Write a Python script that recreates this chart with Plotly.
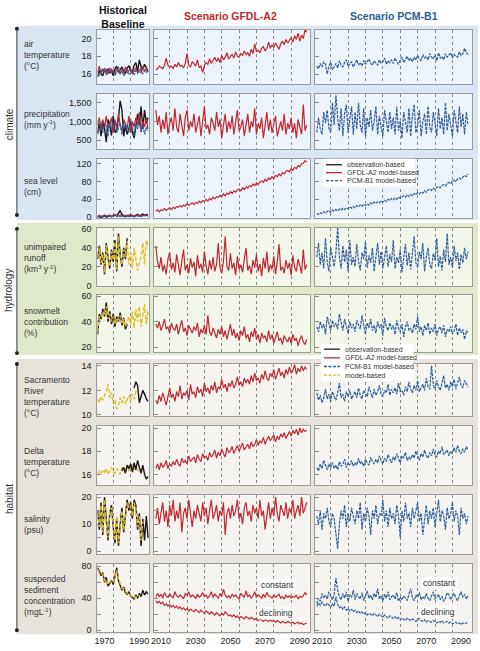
import plotly.graph_objects as go

# ---------------- data ----------------
years_hist = list(range(1966, 1996))      # 30 years
years_scen = list(range(2007, 2095))      # 88 years

# ---- historical: climate ----
hist_air_obs = [15.7, 16.4, 16.0, 15.8, 16.5, 16.3, 16.6, 16.1, 16.4, 15.8,
                16.6, 16.9, 16.2, 16.5, 16.8, 16.3, 16.1, 16.7, 16.9, 16.4,
                16.2, 17.0, 17.3, 16.3, 17.6, 16.8, 16.5, 17.1, 16.6, 16.3]
hist_air_gfdl = [16.2, 16.9, 16.1, 16.6, 16.3, 16.5, 16.0, 16.7, 16.2, 16.4,
                 16.1, 16.6, 16.3, 16.0, 16.5, 16.2, 16.8, 16.1, 16.4, 16.6,
                 16.0, 16.3, 16.7, 16.2, 16.5, 16.1, 16.9, 16.3, 16.6, 16.2]
hist_air_pcm = [16.0, 15.8, 16.5, 16.2, 16.7, 15.9, 16.4, 16.1, 16.6, 16.3,
                15.9, 16.2, 16.8, 16.1, 16.4, 15.8, 16.3, 16.6, 16.0, 16.2,
                16.5, 15.9, 16.4, 16.1, 16.3, 16.7, 16.0, 16.4, 16.2, 16.5]
hist_pr_obs = [700, 950, 600, 1000, 800, 450, 1050, 900, 620, 1150,
               700, 750, 1100, 1550, 1300, 600, 900, 650, 800, 1000,
               700, 550, 850, 1200, 900, 1400, 800, 1300, 950, 1100]
hist_pr_gfdl = [900, 1100, 750, 1050, 850, 1150, 800, 950, 1100, 700,
                1000, 850, 1200, 900, 750, 1050, 950, 800, 1150, 700,
                1000, 850, 1100, 900, 1250, 750, 1000, 850, 1100, 800]
hist_pr_pcm = [650, 800, 1000, 700, 950, 850, 600, 1000, 750, 900,
               1050, 700, 850, 950, 650, 1000, 800, 900, 700, 1050,
               850, 600, 950, 800, 1000, 700, 900, 650, 850, 750]
hist_sl_obs = [0, 2, -1, 1, 3, 0, 2, 4, 1, 3,
               5, 2, 8, 15, 6, 3, 1, 4, 2, 5,
               3, 1, 4, 6, 3, 5, 7, 4, 6, 5]
hist_sl_gfdl = [2, 4, 1, 3, 5, 2, 4, 3, 1, 4,
                6, 3, 2, 5, 3, 1, 4, 2, 5, 3,
                4, 2, 3, 5, 2, 4, 3, 6, 4, 3]
hist_sl_pcm = [1, 0, 3, 1, 4, 2, 0, 3, 2, 1,
               4, 2, 3, 1, 2, 4, 1, 3, 0, 2,
               3, 1, 4, 2, 3, 1, 2, 4, 3, 2]

# ---- historical: hydrology ----
hist_ro_obs = [28, 42, 22, 35, 12, 45, 30, 18, 38, 25,
               48, 15, 55, 32, 20, 40, 28, 50]                       # 1966-1983
hist_ro_mod = [30, 40, 24, 33, 14, 43, 28, 20, 36, 27,
               46, 17, 52, 30, 22, 38, 30, 47, 22, 35,
               18, 40, 28, 16, 24, 30, 45, 22, 48, 40]
hist_sm_obs = [30, 46, 42, 50, 44, 55, 40, 48, 38, 46,
               36, 44, 40, 47, 37, 43, 34, 38]                       # 1966-1983
hist_sm_mod = [32, 44, 43, 48, 45, 52, 42, 46, 40, 44,
               38, 43, 41, 45, 38, 42, 36, 40, 44, 38,
               48, 35, 50, 40, 52, 36, 46, 54, 38, 48]

# ---- historical: habitat ----
hist_sac_mod = [11.3, 11.0, 11.5, 11.2, 11.6, 11.9, 12.5, 11.4, 11.8, 10.9,
                11.2, 10.5, 10.8, 11.4, 11.0, 11.5, 10.9, 11.3, 11.6, 11.1,
                11.7, 11.3, 11.9, 12.1]                               # 1966-1989
hist_sac_obs = [12.2, 12.7, 12.4, 11.0, 11.5, 12.0, 11.7, 11.3, 11.1]  # 1987-1995
hist_dt_mod = [16.0, 16.3, 16.1, 16.4, 16.2, 16.5, 16.0, 16.3, 16.6, 16.2,
               16.1, 16.5, 16.3, 16.0, 16.6, 16.4, 16.2, 16.7, 16.3, 16.5,
               16.9, 16.4, 16.8, 16.3, 16.6, 16.2, 16.5]               # 1966-1992
hist_dt_obs = [16.3, 16.6, 16.1, 16.8, 16.5, 16.9, 16.2, 17.0, 16.4, 17.2,
               16.6, 16.1, 16.8, 16.0, 15.6, 15.8]                     # 1980-1995
hist_sal_obs = [15, 8, 18, 6, 20, 11, 4, 14, 17, 9,
                3, 12, 2, 10, 16, 7, 13, 19, 15, 18,
                12, 19, 17, 8, 14, 2, 12, 4, 13, 5]
hist_sal_mod = [14, 9, 17, 7, 19, 10, 5, 15, 16, 10,
                4, 13, 3, 9, 15, 8, 12, 18, 16, 17,
                13, 18, 16, 9, 13, 4, 11]                              # 1966-1992
hist_sed_obs = [78, 74, 68, 72, 60, 66, 55, 58, 62, 57,
                70, 78, 62, 55, 50, 54, 47, 45, 48, 43,
                41, 39, 44, 40, 46, 42, 50, 44, 48, 45]
hist_sed_mod = [76, 72, 70, 70, 62, 64, 57, 60, 60, 59,
                68, 75, 64, 57, 52, 52, 49, 46, 46, 44,
                42, 40, 42, 41, 44]                                    # 1966-1990

# ---- scenarios (2007-2094) ----
gfdl_air = [16.5, 16.6, 16.9, 16.7, 16.6, 17.0, 17.8, 17.0, 16.8, 16.9, 16.6,
            17.1, 16.8, 17.3, 16.9, 17.0, 16.7, 17.2, 18.3, 17.0, 16.8, 17.4,
            17.1, 16.9, 17.6, 16.7, 16.9, 16.2, 17.0, 17.3, 17.1, 17.7, 17.2,
            17.5, 17.9, 17.4, 17.8, 17.3, 18.1, 17.6, 17.9, 18.4, 17.7, 18.0,
            18.2, 17.8, 18.5, 18.0, 17.9, 18.3, 18.1, 18.6, 18.2, 18.4, 18.0,
            18.8, 18.3, 19.4, 18.5, 18.7, 18.4, 18.9, 19.1, 18.6, 18.9, 19.6,
            18.9, 19.3, 19.0, 19.5, 19.2, 18.8, 19.4, 19.7, 19.3, 19.9, 19.5,
            19.8, 20.1, 19.6, 20.3, 19.9, 20.6, 19.7, 20.4, 20.0, 21.0, 20.7]
pcm_air = [16.9, 16.6, 17.2, 16.8, 17.4, 17.1, 16.0, 16.9, 17.3, 16.5, 16.8,
           17.2, 16.7, 17.5, 17.0, 16.8, 17.3, 17.6, 16.9, 17.1, 17.4, 16.8,
           17.2, 17.6, 17.0, 17.3, 16.9, 17.5, 17.1, 17.4, 17.7, 17.2, 17.0,
           17.5, 17.3, 17.0, 17.6, 17.2, 17.4, 17.8, 17.1, 17.5, 17.3, 17.6,
           17.2, 17.8, 17.4, 17.1, 17.6, 17.9, 17.3, 17.7, 18.0, 17.5, 17.8,
           17.4, 17.9, 17.6, 18.1, 17.7, 17.5, 18.2, 17.8, 18.0, 17.6, 18.3,
           17.9, 17.7, 18.2, 17.5, 18.4, 17.8, 18.0, 17.6, 18.3, 17.9, 18.1,
           18.4, 17.8, 18.2, 18.0, 17.9, 18.5, 18.1, 18.3, 18.9, 18.4, 18.2]
gfdl_pr = [1300, 900, 1150, 700, 1050, 800, 1250, 650, 950, 1100, 750,
           1350, 850, 700, 1200, 900, 600, 1100, 1300, 750, 1000, 850,
           1200, 700, 950, 1150, 600, 1000, 1400, 800, 900, 650, 1100,
           950, 750, 1250, 850, 1050, 550, 900, 1200, 700, 1000, 800,
           1150, 650, 950, 1300, 750, 850, 1050, 600, 900, 1200, 700,
           1000, 850, 1350, 650, 950, 800, 1100, 550, 900, 1250, 750,
           1050, 700, 900, 1150, 600, 850, 1000, 750, 1200, 650, 950,
           800, 1100, 700, 950, 550, 1050, 850, 650, 1450, 750, 900]
pcm_pr = [700, 1100, 800, 650, 1250, 950, 1300, 800, 700, 1500, 900,
          1700, 1100, 750, 1350, 600, 1200, 1450, 700, 1000, 1400, 650,
          1250, 800, 1500, 900, 700, 1350, 600, 1100, 850, 1300, 750,
          1000, 1400, 650, 1150, 850, 600, 1300, 950, 700, 1250, 800,
          1100, 650, 1400, 750, 1000, 550, 1250, 900, 700, 1350, 600,
          1150, 1450, 700, 900, 1300, 600, 1000, 1200, 650, 1400, 850,
          700, 1250, 950, 600, 1350, 800, 1100, 650, 1500, 750, 1200,
          900, 600, 1300, 1050, 700, 1400, 850, 1200, 650, 1250, 900]
gfdl_sl = [13, 17, 12, 16, 15, 19, 15, 18, 21, 17, 22,
           19, 24, 22, 26, 23, 27, 25, 30, 26, 29, 32,
           28, 33, 31, 36, 32, 37, 35, 40, 36, 42, 39,
           45, 41, 46, 44, 49, 46, 52, 48, 54, 51, 57,
           53, 59, 56, 61, 63, 59, 66, 62, 68, 65, 71,
           68, 74, 71, 77, 73, 79, 81, 78, 85, 81, 88,
           85, 91, 87, 94, 91, 97, 93, 100, 97, 103, 105,
           102, 109, 105, 112, 109, 116, 113, 120, 121, 127, 124]
pcm_sl = [8, 6, 10, 8, 12, 9, 13, 15, 11, 16, 13,
          17, 14, 18, 16, 20, 17, 21, 19, 23, 20, 24,
          21, 26, 23, 27, 24, 29, 26, 30, 27, 32, 29,
          34, 31, 35, 32, 37, 34, 38, 35, 40, 37, 42,
          39, 43, 40, 45, 42, 46, 48, 45, 50, 47, 51,
          48, 53, 50, 55, 52, 57, 54, 59, 56, 61, 63,
          60, 65, 62, 67, 69, 66, 71, 73, 70, 76, 78,
          75, 81, 83, 80, 86, 88, 85, 91, 94, 91, 97]
gfdl_ro = [42, 25, 18, 30, 15, 22, 12, 28, 35, 17, 24,
           14, 33, 20, 11, 26, 38, 16, 22, 13, 29, 19,
           25, 10, 32, 18, 23, 14, 36, 21, 12, 27, 17,
           30, 15, 22, 45, 19, 13, 26, 52, 20, 16, 34,
           18, 24, 11, 31, 17, 22, 14, 28, 40, 16, 21,
           12, 27, 19, 33, 15, 23, 10, 29, 18, 36, 14,
           22, 17, 31, 12, 25, 44, 16, 20, 13, 27, 18,
           24, 11, 32, 19, 15, 28, 21, 13, 38, 17, 22]
pcm_ro = [30, 45, 22, 35, 18, 50, 25, 15, 40, 28, 20,
          35, 62, 30, 18, 42, 25, 38, 15, 48, 22, 30,
          20, 44, 26, 16, 35, 28, 46, 19, 32, 24, 40,
          15, 30, 45, 22, 36, 18, 28, 42, 20, 33, 25,
          48, 18, 30, 24, 38, 14, 27, 44, 21, 35, 17,
          32, 52, 24, 19, 36, 28, 45, 15, 30, 40, 22,
          18, 34, 27, 50, 20, 31, 16, 38, 25, 55, 22,
          30, 19, 42, 26, 35, 17, 33, 24, 40, 28, 36]
gfdl_sm = [38, 35, 40, 33, 37, 42, 34, 36, 31, 39, 35,
           33, 38, 30, 36, 41, 32, 35, 29, 37, 34, 31,
           36, 33, 39, 28, 34, 31, 37, 30, 45, 32, 29,
           35, 31, 27, 34, 30, 36, 28, 33, 26, 32, 38,
           29, 34, 27, 31, 25, 33, 29, 36, 27, 30, 24,
           32, 28, 35, 26, 30, 23, 31, 27, 29, 24, 33,
           26, 30, 23, 28, 32, 25, 27, 22, 29, 26, 24,
           28, 23, 30, 25, 27, 21, 26, 29, 24, 22, 26]
pcm_sm = [36, 32, 40, 35, 38, 30, 44, 37, 33, 41, 36,
          39, 34, 46, 38, 33, 42, 36, 31, 40, 35, 38,
          32, 41, 37, 34, 45, 36, 30, 39, 35, 42, 33,
          37, 31, 40, 35, 38, 29, 43, 36, 33, 39, 34,
          37, 30, 41, 35, 32, 38, 28, 36, 40, 33, 35,
          31, 38, 34, 44, 32, 36, 29, 37, 33, 39, 30,
          35, 32, 38, 29, 34, 36, 31, 37, 28, 34, 32,
          36, 30, 33, 38, 29, 35, 31, 34, 26, 33, 31]
gfdl_sac = [11.2, 10.9, 11.6, 11.1, 11.8, 11.3, 10.8, 11.5, 12.2, 11.4, 11.7,
            11.1, 11.9, 11.5, 12.4, 11.3, 11.8, 11.6, 12.0, 11.2, 12.5, 11.7,
            11.9, 11.4, 12.3, 11.8, 12.1, 11.5, 12.6, 11.9, 12.2, 11.7, 12.4,
            12.0, 12.7, 11.8, 12.3, 12.1, 12.9, 12.2, 12.5, 11.9, 12.6, 12.3,
            12.8, 12.2, 12.5, 13.1, 12.4, 12.7, 12.3, 13.0, 12.6, 12.9, 12.5,
            13.2, 12.7, 13.4, 12.8, 13.0, 12.6, 13.3, 12.9, 13.6, 13.0, 12.8,
            13.4, 13.1, 13.7, 12.9, 13.3, 13.8, 13.2, 13.5, 13.0, 13.7, 13.3,
            13.9, 13.4, 13.6, 14.1, 13.3, 13.8, 13.5, 14.0, 13.6, 13.9, 13.7]
pcm_sac = [11.8, 11.2, 11.6, 11.0, 11.4, 12.1, 11.3, 11.7, 11.1, 11.9, 11.5,
           11.2, 11.8, 12.6, 11.4, 11.7, 11.1, 11.9, 11.5, 12.0, 11.3, 11.6,
           11.9, 11.4, 12.2, 11.6, 11.3, 12.0, 11.7, 11.5, 12.3, 11.8, 11.4,
           12.1, 11.6, 11.9, 12.4, 11.7, 11.5, 12.0, 11.8, 12.5, 11.6, 12.1,
           11.8, 12.2, 11.7, 12.6, 11.9, 12.0, 11.6, 12.3, 11.9, 12.7, 12.1,
           11.8, 12.4, 12.0, 12.8, 11.9, 12.2, 12.5, 12.0, 13.0, 12.3, 12.1,
           14.0, 12.4, 12.1, 12.8, 12.3, 12.0, 12.6, 13.2, 12.2, 12.5, 12.0,
           12.7, 12.3, 12.9, 12.1, 12.6, 13.1, 12.4, 12.2, 12.8, 12.5, 12.3]
gfdl_dt = [16.5, 16.9, 16.4, 17.0, 16.6, 16.8, 17.2, 16.5, 16.9, 16.7, 17.1,
           16.8, 17.3, 16.9, 16.7, 17.4, 17.0, 17.2, 16.9, 17.6, 17.1, 17.3,
           17.5, 17.0, 17.7, 17.3, 17.1, 17.8, 17.4, 17.6, 17.2, 17.9, 17.5,
           17.7, 18.1, 17.4, 17.9, 17.6, 18.2, 17.8, 17.5, 18.3, 17.9, 18.0,
           18.4, 17.8, 18.2, 18.5, 18.0, 18.3, 18.7, 18.1, 18.4, 18.6, 18.2,
           18.8, 18.4, 18.6, 19.0, 18.5, 18.9, 18.7, 19.2, 18.6, 19.0, 19.3,
           18.9, 19.1, 19.4, 18.8, 19.3, 19.0, 19.5, 19.2, 19.6, 19.1, 19.4,
           19.7, 19.3, 19.8, 19.5, 19.9, 19.4, 20.0, 19.6, 19.9, 19.7, 19.8]
pcm_dt = [16.6, 16.3, 16.9, 16.5, 17.2, 16.7, 16.4, 16.9, 16.6, 17.0, 16.5,
          16.8, 16.4, 17.1, 16.7, 16.9, 17.3, 16.6, 17.0, 16.8, 17.2, 16.7,
          17.0, 16.8, 17.4, 16.9, 17.1, 16.7, 17.3, 17.0, 16.8, 17.5, 17.1,
          16.9, 17.3, 17.0, 17.6, 17.2, 16.9, 17.4, 17.1, 17.7, 17.3, 17.0,
          17.5, 17.2, 17.8, 17.3, 17.0, 17.6, 17.4, 17.9, 17.2, 17.5, 17.3,
          17.7, 17.4, 18.0, 17.5, 17.2, 17.8, 17.5, 18.1, 17.6, 17.4, 17.9,
          17.6, 18.2, 17.7, 17.5, 18.0, 17.8, 18.4, 17.7, 17.9, 18.1, 17.6,
          18.0, 17.8, 18.3, 17.9, 18.5, 18.0, 17.8, 18.2, 17.9, 18.4, 18.1]
gfdl_sal = [12, 16, 10, 14, 18, 11, 15, 9, 17, 13, 19,
            11, 15, 12, 18, 7, 14, 16, 12, 19, 13, 9,
            15, 12, 17, 14, 11, 18, 13, 16, 10, 15, 19,
            12, 14, 17, 11, 15, 13, 18, 6, 14, 16, 12,
            17, 13, 15, 19, 12, 14, 10, 16, 18, 13, 15,
            11, 17, 14, 16, 12, 19, 13, 15, 8, 14, 18,
            12, 16, 13, 20, 14, 11, 17, 15, 13, 18, 12,
            16, 14, 19, 12, 15, 17, 13, 20, 14, 16, 18]
pcm_sal = [13, 10, 15, 8, 14, 12, 16, 11, 9, 14, 12,
           5, 1, 10, 15, 12, 17, 9, 14, 11, 16, 13,
           10, 15, 12, 18, 8, 14, 11, 16, 13, 6, 15,
           12, 17, 10, 14, 13, 19, 11, 15, 9, 16, 12,
           14, 10, 17, 13, 5, 15, 11, 18, 12, 14, 9,
           16, 12, 15, 18, 11, 14, 6, 13, 17, 10, 15,
           12, 16, 9, 14, 19, 11, 15, 13, 8, 16, 12,
           14, 18, 11, 15, 13, 6, 16, 12, 14, 10, 13]
gfdl_sed_const = [41, 46, 42, 45, 40, 47, 43, 41, 45, 42, 40,
                  48, 43, 41, 44, 42, 39, 46, 43, 48, 41, 44,
                  42, 40, 45, 41, 43, 47, 42, 44, 40, 43, 48,
                  41, 45, 43, 40, 46, 42, 51, 44, 41, 43, 40,
                  45, 42, 44, 41, 39, 46, 43, 41, 49, 42, 44,
                  40, 43, 48, 41, 44, 42, 40, 45, 41, 47, 43,
                  42, 40, 44, 41, 43, 45, 40, 42, 39, 44, 41,
                  43, 40, 42, 41, 44, 39, 42, 41, 43, 47, 44]
gfdl_sed_decl = [37, 34, 36, 33, 35, 31, 33, 30, 32, 29, 31,
                 28, 30, 27, 29, 26, 28, 25, 27, 24, 26, 25,
                 23, 26, 24, 22, 25, 23, 21, 24, 22, 20, 23,
                 21, 19, 22, 20, 18, 21, 19, 23, 20, 18, 19,
                 17, 19, 16, 18, 15, 17, 16, 14, 17, 15, 14,
                 16, 14, 13, 15, 12, 14, 13, 11, 13, 12, 11,
                 13, 11, 12, 10, 12, 11, 9, 11, 10, 9, 11,
                 10, 9, 10, 8, 9, 10, 8, 9, 7, 8, 9]
pcm_sed_const = [33, 40, 36, 46, 40, 44, 39, 48, 43, 38, 45,
                 65, 50, 42, 38, 46, 40, 48, 36, 44, 41, 50,
                 38, 46, 42, 39, 47, 37, 43, 49, 40, 44, 38,
                 46, 41, 52, 39, 43, 37, 45, 40, 48, 38, 42,
                 44, 39, 47, 36, 41, 38, 43, 40, 37, 45, 52,
                 40, 37, 44, 41, 47, 38, 42, 39, 46, 40, 37,
                 43, 48, 39, 41, 45, 38, 42, 36, 40, 47, 44,
                 38, 42, 46, 40, 37, 43, 48, 41, 45, 39, 43]
pcm_sed_decl = [30, 34, 31, 35, 32, 30, 34, 31, 29, 33, 30,
                42, 32, 28, 30, 26, 29, 25, 27, 24, 26, 23,
                25, 22, 24, 21, 23, 20, 22, 19, 21, 20, 18,
                21, 19, 17, 20, 18, 16, 19, 17, 15, 18, 16,
                15, 17, 14, 16, 13, 15, 14, 12, 15, 13, 12,
                14, 12, 11, 13, 15, 12, 11, 13, 10, 12, 11,
                10, 12, 11, 9, 11, 10, 12, 9, 10, 11, 9,
                10, 8, 9, 10, 8, 9, 7, 9, 8, 9, 10]

row_labels = ["air<br>temperature<br>(°C)",
              "precipitation<br>(mm y<sup>-1</sup>)",
              "sea level<br>(cm)",
              "unimpaired<br>runoff<br>(km<sup>3</sup> y<sup>-1</sup>)",
              "snowmelt<br>contribution<br>(%)",
              "Sacramento<br>River<br>temperature<br>(°C)",
              "Delta<br>temperature<br>(°C)",
              "salinity<br>(psu)",
              "suspended<br>sediment<br>concentration<br>(mgL<sup>-1</sup>)"]
y_tickvals = [[16, 18, 20], [500, 1000, 1500], [0, 40, 80, 120], [0, 20, 40, 60],
              [20, 40, 60], [10, 12, 14], [16, 18, 20], [0, 10, 20], [0, 40, 80]]
y_ticktext = [["16", "18", "20"], ["500", "1,000", "1,500"], ["0", "40", "80", "120"],
              ["0", "20", "40", "60"], ["20", "40", "60"], ["10", "12", "14"],
              ["16", "18", "20"], ["0", "10", "20"], ["0", "40", "80"]]
y_minor_ticks = [[], [], [], [], [], [], [], [5, 15], [20, 60]]
hist_ticks = [1970, 1990]
scen_ticks = [2010, 2030, 2050, 2070, 2090]
hist_grid = [1975, 1985]
scen_grid = [2015, 2025, 2035, 2045, 2055, 2065, 2075, 2085]

for s in [gfdl_air, pcm_air, gfdl_pr, pcm_pr, gfdl_sl, pcm_sl, gfdl_ro, pcm_ro, gfdl_sm,
          pcm_sm, gfdl_sac, pcm_sac, gfdl_dt, pcm_dt, gfdl_sal, pcm_sal, gfdl_sed_const,
          gfdl_sed_decl, pcm_sed_const, pcm_sed_decl]:
    assert len(s) == len(years_scen), len(s)

# ---------------- styling / layout ----------------
W, H = 480, 651
FONT = "Liberation Sans, Arial, sans-serif"
C_OBS, C_GFDL, C_PCM, C_MOD = "#1a1a1a", "#c1272d", "#2b5c9e", "#e3b91c"
OBS = dict(color=C_OBS, width=1.4)
GF = dict(color=C_GFDL, width=1.2)
PC = dict(color=C_PCM, width=1.2, dash="3px,1px")
MOD = dict(color=C_MOD, width=1.4, dash="4px,2px")


def fx(p):
    return p / W


def fy(p):
    return 1 - p / H


COLS = [(95, 147), (152, 309), (314, 472)]
XRANGES = [[1965.9, 1995.6], [2006, 2095.9], [2006, 2096.3]]
ROWS = [(26, 81), (91, 147), (157, 217), (227, 286), (295, 353),
        (365, 418), (428, 488), (498, 558), (568, 637)]
YRANGES = [[14.9, 21.0], [260, 1740], [-2, 131], [-0.5, 61], [16, 61],
           [9.9, 14.15], [15.06, 20.17], [-1.1, 20.7], [-2.5, 82.5]]
SECTION_OF_ROW = [0, 0, 0, 1, 1, 2, 2, 2, 2]
SEC_BG = ["#d9e5f1", "#e0e8ca", "#e7e3dc"]
PANEL_BG = ["#edf3fa", "#f3f6ea", "#f6f4f0"]

yh = years_hist
ys = years_scen
traces = [
    [[(yh, hist_air_obs, OBS), (yh, hist_air_gfdl, GF), (yh, hist_air_pcm, PC)],
     [(ys, gfdl_air, GF)], [(ys, pcm_air, PC)]],
    [[(yh, hist_pr_obs, OBS), (yh, hist_pr_gfdl, GF), (yh, hist_pr_pcm, PC)],
     [(ys, gfdl_pr, GF)], [(ys, pcm_pr, PC)]],
    [[(yh, hist_sl_obs, OBS), (yh, hist_sl_gfdl, GF), (yh, hist_sl_pcm, PC)],
     [(ys, gfdl_sl, GF)], [(ys, pcm_sl, PC)]],
    [[(yh[:len(hist_ro_obs)], hist_ro_obs, OBS), (yh, hist_ro_mod, MOD)],
     [(ys, gfdl_ro, GF)], [(ys, pcm_ro, PC)]],
    [[(yh[:len(hist_sm_obs)], hist_sm_obs, OBS), (yh, hist_sm_mod, MOD)],
     [(ys, gfdl_sm, GF)], [(ys, pcm_sm, PC)]],
    [[(yh[:len(hist_sac_mod)], hist_sac_mod, MOD), (yh[-len(hist_sac_obs):], hist_sac_obs, OBS)],
     [(ys, gfdl_sac, GF)], [(ys, pcm_sac, PC)]],
    [[(yh[:len(hist_dt_mod)], hist_dt_mod, MOD), (yh[-len(hist_dt_obs):], hist_dt_obs, OBS)],
     [(ys, gfdl_dt, GF)], [(ys, pcm_dt, PC)]],
    [[(yh, hist_sal_obs, OBS), (yh[:len(hist_sal_mod)], hist_sal_mod, MOD)],
     [(ys, gfdl_sal, GF)], [(ys, pcm_sal, PC)]],
    [[(yh, hist_sed_obs, OBS), (yh[:len(hist_sed_mod)], hist_sed_mod, MOD)],
     [(ys, gfdl_sed_const, GF), (ys, gfdl_sed_decl, GF)],
     [(ys, pcm_sed_const, PC), (ys, pcm_sed_decl, PC)]],
]

fig = go.Figure()
layout = {}
shapes = []

sec_spans = [(22, 219), (222, 356), (360, 639)]
for i, (t, b) in enumerate(sec_spans):
    shapes.append(dict(type="rect", xref="paper", yref="paper", layer="below",
                       x0=fx(14), x1=fx(478), y0=fy(b), y1=fy(t),
                       fillcolor=SEC_BG[i], line=dict(width=0)))

TICKFONT = dict(family=FONT, size=9, color="#222")
k = 0
for r in range(9):
    top, bot = ROWS[r]
    for c in range(3):
        k += 1
        xid = "x" if k == 1 else f"x{k}"
        yid = "y" if k == 1 else f"y{k}"
        xname = "xaxis" if k == 1 else f"xaxis{k}"
        yname = "yaxis" if k == 1 else f"yaxis{k}"
        x0, x1 = COLS[c]
        shapes.append(dict(type="rect", xref="paper", yref="paper", layer="below",
                           x0=fx(x0), x1=fx(x1), y0=fy(bot), y1=fy(top),
                           fillcolor=PANEL_BG[SECTION_OF_ROW[r]], line=dict(width=0)))
        tv = hist_ticks if c == 0 else scen_ticks
        gv = hist_grid if c == 0 else scen_grid
        layout[xname] = dict(domain=[fx(x0), fx(x1)], anchor=yid, range=XRANGES[c],
                             tickvals=tv, ticktext=[str(v) for v in tv],
                             showticklabels=(r == 8), ticks="", showgrid=False,
                             showline=True, mirror=True, linecolor="#9c9c9c", linewidth=1,
                             zeroline=False, fixedrange=True, tickfont=TICKFONT,
                             minor=dict(tickvals=gv, showgrid=True, griddash="dot",
                                        gridcolor="#8a8a8a", gridwidth=1, ticks=""))
        ymin = dict(tickvals=y_minor_ticks[r], ticks="inside", ticklen=4,
                    tickcolor="#8a8a8a", showgrid=False) if y_minor_ticks[r] else dict(ticks="")
        layout[yname] = dict(domain=[fy(bot), fy(top)], anchor=xid, range=YRANGES[r],
                             tickvals=y_tickvals[r], ticktext=y_ticktext[r],
                             showticklabels=(c == 0), ticks="inside", ticklen=4,
                             tickcolor="#8a8a8a", showgrid=False, showline=True, mirror=True,
                             linecolor="#9c9c9c", linewidth=1, zeroline=False, fixedrange=True,
                             ticklabelstandoff=3, tickfont=TICKFONT, minor=ymin)
        for (xv, yv, st) in traces[r][c]:
            fig.add_trace(go.Scatter(x=xv, y=yv, mode="lines", line=st, xaxis=xid, yaxis=yid,
                                     showlegend=False, hoverinfo="skip"))

for (t, b) in [(25, 214), (228, 354), (365, 635)]:
    shapes.append(dict(type="line", xref="paper", yref="paper", x0=fx(14), x1=fx(14),
                       y0=fy(t), y1=fy(b), line=dict(color="#3a3a3a", width=1)))
    for yy in (t, b):
        shapes.append(dict(type="circle", xref="paper", yref="paper",
                           x0=fx(12), x1=fx(16), y0=fy(yy + 2), y1=fy(yy - 2),
                           fillcolor="#222", line=dict(width=0)))

annotations = []


def txt(x, y, text, size=10, color="#333", xanchor="left", bold=False, angle=0, align="left",
        bg=None):
    a = dict(xref="paper", yref="paper", x=fx(x), y=fy(y),
             text=("<b>%s</b>" % text) if bold else text,
             showarrow=False, xanchor=xanchor, yanchor="middle", align=align, textangle=angle,
             font=dict(family=FONT, size=size, color=color))
    if bg:
        a["bgcolor"] = bg
        a["borderpad"] = 1
    annotations.append(a)


txt(121, 13, "Historical<br>Baseline", size=10.5, color="#111", xanchor="center", bold=True,
    align="center")
txt(229, 12, "Scenario GFDL-A2", size=10.5, color=C_GFDL, xanchor="center", bold=True)
txt(393, 12, "Scenario PCM-B1", size=10.5, color="#2a5a9b", xanchor="center", bold=True)

label_y = [52, 117, 185, 258, 322, 398, 464, 528, 600]
for lab, yy in zip(row_labels, label_y):
    txt(19, yy, lab, size=8.5, color="#333")

txt(6, 122, "climate", size=10, color="#333", xanchor="center", angle=-90)
txt(6, 290, "hydrology", size=10, color="#333", xanchor="center", angle=-90)
txt(6, 502, "habitat", size=10, color="#333", xanchor="center", angle=-90)

legend1 = [("observation-based", OBS), ("GFDL-A2 model-based", GF), ("PCM-B1 model-based", PC)]
legend2 = legend1 + [("model-based", MOD)]
for items, (bx0, by0, bx1, by1), ys0, dy in [(legend1, (322, 157, 414, 185), 163, 8.0),
                                             (legend2, (320, 345, 413, 382), 350, 8.8)]:
    shapes.append(dict(type="rect", xref="paper", yref="paper", x0=fx(bx0), x1=fx(bx1),
                       y0=fy(by1), y1=fy(by0), fillcolor="white", line=dict(width=0)))
    for i, (name, st) in enumerate(items):
        yy = ys0 + i * dy
        ln = dict(color=st["color"], width=1.3)
        if "dash" in st:
            ln["dash"] = "3px,1.5px"
        shapes.append(dict(type="line", xref="paper", yref="paper", x0=fx(bx0 + 3),
                           x1=fx(bx0 + 19), y0=fy(yy), y1=fy(yy), line=ln))
        txt(bx0 + 22, yy, name, size=7.0, color="#333")

for (x, y, t) in [(276, 589, "constant"), (275, 618, "declining"),
                  (439, 587, "constant"), (438, 617, "declining")]:
    txt(x, y, t, size=8.5, color="#333", xanchor="center", bg="rgba(255,255,255,0.8)")

fig.update_layout(width=W, height=H, margin=dict(l=0, r=0, t=0, b=0),
                  paper_bgcolor="white", plot_bgcolor="rgba(0,0,0,0)",
                  shapes=shapes, annotations=annotations, showlegend=False,
                  font=dict(family=FONT, size=10, color="#333"), **layout)
fig.write_html("out.html", config={"displayModeBar": False},
               post_script="document.body.style.margin='0';")
